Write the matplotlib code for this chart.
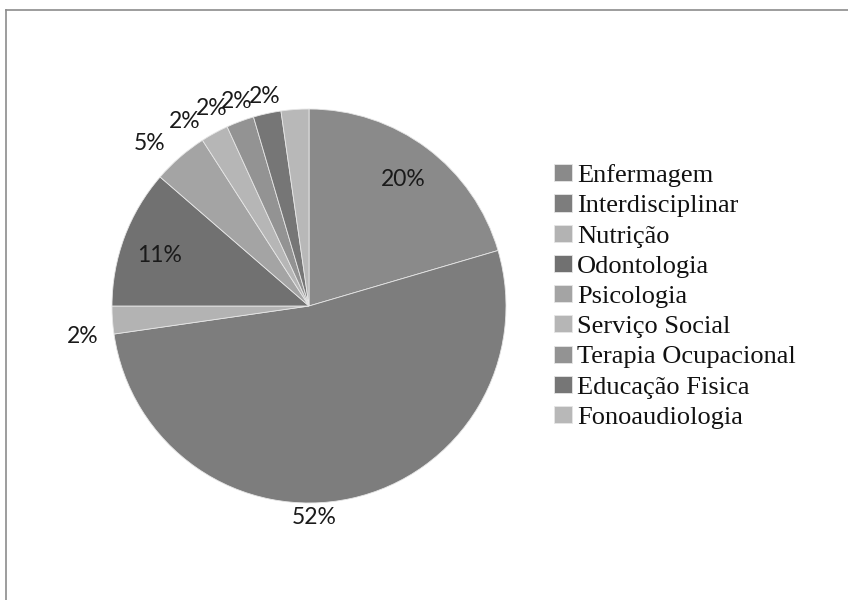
import numpy as np
import matplotlib
matplotlib.use('Agg')
import matplotlib.pyplot as plt
from matplotlib.lines import Line2D

# data
areas = ["Enfermagem", "Interdisciplinar", "Nutrição", "Odontologia", "Psicologia",
         "Serviço Social", "Terapia Ocupacional", "Educação Fisica", "Fonoaudiologia"]
counts = [9, 23, 1, 5, 2, 1, 1, 1, 1]

# grey palette of the source
colors = ["#8a8a8a", "#7d7d7d", "#b3b3b3", "#717171", "#a4a4a4",
          "#b6b6b6", "#939393", "#767676", "#b8b8b8"]

# label placement (radius fraction, angle shift in degrees)
label_r = [0.80, 1.076, 1.16, 0.80, 1.155, 1.13, 1.12, 1.10, 1.085]
label_shift = [0.0, -10.9, 3.7, 1.6, 3.5, 5.2, 5.8, 7.1, 7.8]

W, H = 848, 600
fig = plt.figure(figsize=(W / 100, H / 100), dpi=100)

# frame like the source screenshot
fig.add_artist(Line2D([6 / W, 6 / W], [0, 1 - 10 / H], transform=fig.transFigure,
                      color="#8c8c8c", linewidth=1.2))
fig.add_artist(Line2D([6 / W, 1], [1 - 10 / H, 1 - 10 / H], transform=fig.transFigure,
                      color="#8c8c8c", linewidth=1.2))

cx, cy, r = 309, 306, 197
ax = fig.add_axes([(cx - r) / W, (H - cy - r) / H, 2 * r / W, 2 * r / H])

wedges, _ = ax.pie(counts, colors=colors, startangle=90, counterclock=False, radius=1,
                   wedgeprops=dict(edgecolor="#e6e6e6", linewidth=0.6))
ax.set_xlim(-1, 1)
ax.set_ylim(-1, 1)
ax.set_aspect('equal')
ax.axis('off')

total = float(sum(counts))
for w, c, rr, sh in zip(wedges, counts, label_r, label_shift):
    mid = np.deg2rad((w.theta1 + w.theta2) / 2 + sh)
    ax.text(rr * np.cos(mid), rr * np.sin(mid), "%d%%" % round(100 * c / total),
            ha="center", va="center", fontsize=16.5, family="Lato", color="#1a1a1a")

leg = fig.legend(wedges, areas, loc="center left", bbox_to_anchor=(554 / W, 1 - 296.5 / H),
                 frameon=False, borderpad=0, borderaxespad=0,
                 prop=dict(family="Liberation Serif", size=19),
                 handlelength=0.68, handleheight=0.62, handletextpad=0.2,
                 labelspacing=0.28)
for t in leg.get_texts():
    t.set_color("#111111")

plt.savefig("out.png", dpi=100)
